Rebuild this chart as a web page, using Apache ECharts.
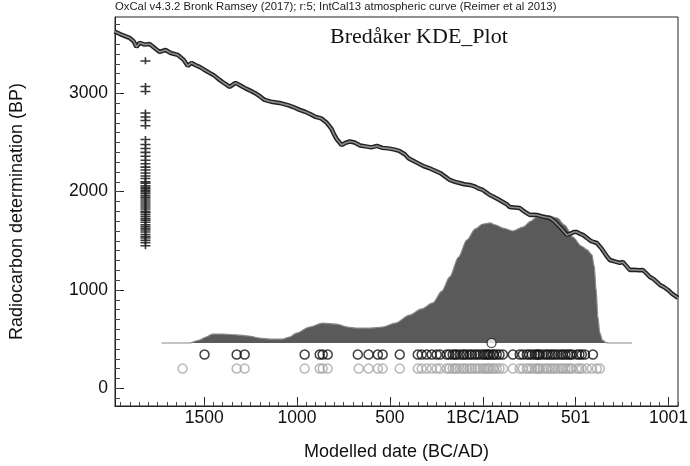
<!DOCTYPE html>
<html>
<head>
<meta charset="utf-8">
<title>Bredåker KDE_Plot</title>
<script src="https://cdn.jsdelivr.net/npm/echarts@6/dist/echarts.min.js"></script>
<style>
	html, body { margin: 0; padding: 0; background: #fff; }
	#chart { width: 690px; height: 466px; }
</style>
</head>
<body>
<div id="chart"></div>
<script>
// IntCal13 curve (calendar year, 0 = 1BC/1AD ; BP)
const curveYears = [-1982, -1950, -1902, -1880, -1864, -1848, -1820, -1794, -1770, -1740, -1708, -1680, -1643, -1610, -1589, -1568, -1545, -1525, -1500, -1471, -1445, -1417, -1390, -1363, -1331, -1305, -1282, -1255, -1228, -1200, -1175, -1140, -1094, -1050, -1020, -986, -960, -930, -900, -870, -840, -815, -800, -785, -760, -740, -715, -690, -660, -630, -600, -570, -540, -510, -480, -450, -420, -400, -380, -350, -320, -290, -260, -230, -200, -178, -150, -120, -100, -70, -40, -20, 0, 20, 38, 60, 85, 108, 130, 145, 170, 199, 225, 253, 275, 291, 320, 340, 361, 385, 415, 435, 453, 475, 490, 506, 525, 539, 560, 580, 600, 614, 640, 665, 684, 710, 738, 754, 775, 792, 815, 840, 862, 880, 900, 920, 954, 975, 997, 1020, 1051];
const curveBP = [3628, 3600, 3564, 3530, 3472, 3513, 3495, 3502, 3465, 3421, 3441, 3410, 3391, 3340, 3279, 3309, 3285, 3269, 3240, 3208, 3180, 3136, 3100, 3065, 3106, 3080, 3055, 3030, 3004, 2970, 2933, 2915, 2902, 2880, 2860, 2831, 2815, 2790, 2760, 2745, 2700, 2640, 2580, 2530, 2475, 2495, 2510, 2500, 2470, 2460, 2450, 2465, 2445, 2440, 2430, 2415, 2380, 2340, 2320, 2290, 2260, 2240, 2215, 2190, 2150, 2119, 2100, 2085, 2075, 2068, 2050, 2030, 2017, 1990, 1966, 1945, 1920, 1895, 1870, 1844, 1838, 1834, 1795, 1763, 1765, 1763, 1748, 1740, 1732, 1700, 1641, 1600, 1560, 1575, 1590, 1590, 1570, 1560, 1530, 1500, 1485, 1478, 1420, 1350, 1305, 1290, 1275, 1285, 1240, 1203, 1205, 1200, 1203, 1170, 1132, 1110, 1051, 1030, 1000, 960, 919];

// KDE of the modelled dates (relative density, peak = 1)
const kdeYears = [-1730, -1579, -1525, -1490, -1455, -1400, -1325, -1260, -1202, -1140, -1078, -1040, -1002, -932, -862, -787, -730, -679, -610, -539, -470, -393, -330, -269, -220, -178, -130, -86, -40, 0, 38, 70, 108, 162, 216, 260, 291, 323, 360, 399, 440, 485, 530, 560, 587, 600, 610, 620, 630, 645, 665, 684, 803];
const kdeDensity = [0, 0, 0.023, 0.047, 0.07, 0.07, 0.063, 0.055, 0.039, 0.031, 0.031, 0.047, 0.078, 0.125, 0.156, 0.148, 0.125, 0.117, 0.117, 0.125, 0.156, 0.219, 0.266, 0.313, 0.406, 0.516, 0.672, 0.805, 0.891, 0.93, 0.938, 0.922, 0.898, 0.875, 0.906, 0.953, 0.984, 1.0, 0.992, 0.977, 0.922, 0.828, 0.758, 0.73, 0.69, 0.6, 0.42, 0.2, 0.08, 0.02, 0.003, 0, 0];
const kdeMedian = [47];

// radiocarbon determinations (BP) shown as crosses
const crossYear = -1816;
const crossBP = [3330, 3070, 3020, 2800, 2760, 2725, 2670, 2530, 2480, 2440, 2400, 2360, 2320, 2285, 2250, 2220, 2190, 2160, 2135, 2100, 2085, 2060, 2045, 2030, 2015, 2000, 1985, 1965, 1945, 1925, 1905, 1885, 1865, 1845, 1825, 1800, 1785, 1765, 1745, 1725, 1710, 1690, 1665, 1645, 1625, 1610, 1590, 1565, 1545, 1530, 1505, 1480, 1450];

// modelled (black) and unmodelled (grey) dates
const modelledYears = [-1498, -1325, -1282, -959, -878, -862, -835, -673, -615, -565, -539, -447, -350, -329, -302, -275, -248, -230, -194, -180, -162, -150, -140, -124, -108, -100, -86, -70, -59, -43, -30, -16, 0, 10, 22, 30, 38, 54, 60, 75, 90, 108, 162, 199, 216, 237, 250, 264, 280, 291, 300, 307, 323, 340, 350, 365, 377, 390, 404, 420, 431, 445, 458, 470, 480, 506, 520, 533, 550, 593];
const unmodelledYears = [-1616, -1325, -1282, -959, -878, -862, -835, -668, -615, -565, -539, -447, -350, -329, -302, -275, -248, -230, -194, -180, -162, -150, -140, -124, -108, -100, -86, -70, -59, -43, -30, -16, 0, 10, 22, 30, 38, 54, 60, 75, 90, 108, 162, 199, 216, 237, 250, 264, 280, 291, 300, 307, 323, 340, 350, 365, 377, 390, 404, 420, 431, 445, 458, 470, 480, 506, 520, 533, 560, 587, 614, 630];

// axis ticks
const xTickValues = [-1500, -1000, -500, 0, 500, 1000];
const yTickValues = [0, 1000, 2000, 3000];

const headerText = 'OxCal v4.3.2 Bronk Ramsey (2017); r:5; IntCal13 atmospheric curve (Reimer et al 2013)';
const plotTitle = 'Bredåker KDE_Plot';

const sans = 'Liberation Sans, Arial, sans-serif';
const X_MIN = -1980, X_MAX = 1051;
const Y_MIN = -180, Y_MAX = 3776;

let xMinor = [], yMinor = [];
for (let v = -1950; v <= 1050; v += 50) { xMinor.push(v); }
for (let v = -100; v <= 3700; v += 100) { yMinor.push(v); }

function yearLabel(v) {
	if (v === 0) {
		return '1BC/1AD';
	}
	return v < 0 ? String(-v) : String(v + 1);
}

const zip = (xs, ys) => xs.map((x, i) => [x, ys[i]]);
const row = (xs, level) => xs.map(x => [x, level]);

const chart = echarts.init(document.getElementById('chart'), null, { renderer: 'canvas' });

chart.setOption({
	animation: false,
	backgroundColor: '#fff',
	title: [{
		text: headerText,
		left: 115,
		top: 1,
		padding: 0,
		textStyle: { fontFamily: sans, fontSize: 11.3, fontWeight: 'normal', color: '#222' }
	}, {
		text: plotTitle,
		left: 330,
		top: 26,
		padding: 0,
		textStyle: { fontFamily: 'Liberation Serif, Times New Roman, serif', fontSize: 22, fontWeight: 'normal', color: '#111' }
	}],
	grid: {
		left: 115,
		right: 12,
		top: 17,
		bottom: 60,
		show: true,
		borderColor: '#222',
		borderWidth: 1,
		containLabel: false,
		outerBoundsMode: 'none'
	},
	xAxis: [{
		type: 'value',
		min: X_MIN,
		max: X_MAX,
		name: 'Modelled date (BC/AD)',
		nameLocation: 'middle',
		nameGap: 37,
		nameTextStyle: { fontFamily: sans, fontSize: 18, color: '#111' },
		axisLine: { show: true, onZero: false, lineStyle: { color: '#222' } },
		axisTick: { inside: true, length: 9, customValues: xTickValues, lineStyle: { color: '#222' } },
		axisLabel: { customValues: xTickValues, formatter: yearLabel, margin: 3, fontFamily: sans, fontSize: 17.5, color: '#111' },
		splitLine: { show: false }
	}, {
		// minor ticks only
		type: 'value',
		position: 'bottom',
		min: X_MIN,
		max: X_MAX,
		axisLine: { show: false, onZero: false },
		axisTick: { inside: true, length: 4, customValues: xMinor, lineStyle: { color: '#444' } },
		axisLabel: { show: false },
		splitLine: { show: false }
	}],
	yAxis: [{
		type: 'value',
		min: Y_MIN,
		max: Y_MAX,
		name: 'Radiocarbon determination (BP)',
		nameLocation: 'middle',
		nameGap: 89,
		nameTextStyle: { fontFamily: sans, fontSize: 18, color: '#111' },
		axisLine: { show: true, onZero: false, lineStyle: { color: '#222' } },
		axisTick: { inside: true, length: 9, customValues: yTickValues, lineStyle: { color: '#222' } },
		axisLabel: { customValues: yTickValues, formatter: v => String(v), margin: 7, fontFamily: sans, fontSize: 17.5, color: '#111' },
		splitLine: { show: false }
	}, {
		// density scale of the KDE, not drawn
		type: 'value',
		position: 'right',
		min: -0.492,
		max: 2.547,
		show: false
	}, {
		// minor ticks only
		type: 'value',
		position: 'left',
		min: Y_MIN,
		max: Y_MAX,
		axisLine: { show: false, onZero: false },
		axisTick: { inside: true, length: 5, customValues: yMinor, lineStyle: { color: '#444' } },
		axisLabel: { show: false },
		splitLine: { show: false }
	}],
	series: [{
		name: 'KDE',
		type: 'line',
		yAxisIndex: 1,
		data: zip(kdeYears, kdeDensity),
		smooth: 0.3,
		smoothMonotone: 'x',
		showSymbol: false,
		lineStyle: { color: '#8a8a8a', width: 1.2 },
		areaStyle: { color: '#5a5a5a', opacity: 1 },
		z: 2
	}, {
		name: 'median',
		type: 'scatter',
		yAxisIndex: 1,
		data: row(kdeMedian, 0),
		symbol: 'circle',
		symbolSize: 9,
		itemStyle: { color: '#fff', borderColor: '#111', borderWidth: 1.2 },
		z: 6
	}, {
		name: 'IntCal13',
		type: 'line',
		data: zip(curveYears, curveBP),
		showSymbol: false,
		lineStyle: { color: '#222', width: 4.5 },
		z: 4
	}, {
		name: 'IntCal13 inner',
		type: 'line',
		data: zip(curveYears, curveBP),
		showSymbol: false,
		lineStyle: { color: '#8c8c8c', width: 1.6 },
		z: 5
	}, {
		name: 'determinations',
		type: 'scatter',
		data: crossBP.map(v => [crossYear, v]),
		symbol: 'path://M0,4H10V6.2H0Z M4.2,0H5.8V10H4.2Z',
		symbolSize: [10, 7],
		symbolKeepAspect: false,
		itemStyle: { color: '#222', opacity: 0.9 },
		z: 3
	}, {
		name: 'modelled',
		type: 'scatter',
		yAxisIndex: 1,
		data: row(modelledYears, -0.09),
		symbol: 'circle',
		symbolSize: 9,
		itemStyle: { color: 'rgba(0,0,0,0)', borderColor: '#111', borderWidth: 1.5 },
		z: 3
	}, {
		name: 'unmodelled',
		type: 'scatter',
		yAxisIndex: 1,
		data: row(unmodelledYears, -0.2),
		symbol: 'circle',
		symbolSize: 9,
		itemStyle: { color: 'rgba(0,0,0,0)', borderColor: '#a6a6a6', borderWidth: 1.5 },
		z: 3
	}]
});
</script>
</body>
</html>
